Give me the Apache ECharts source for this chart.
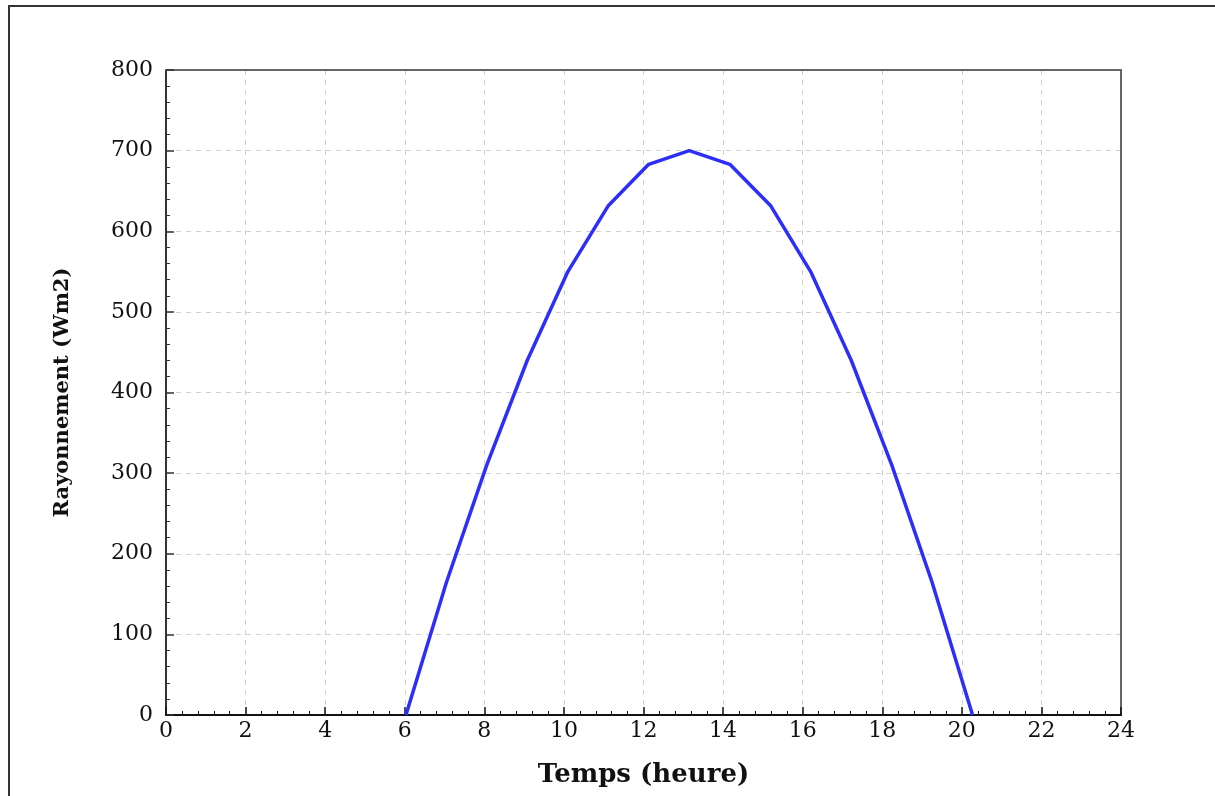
<!DOCTYPE html>
<html><head><meta charset="utf-8">
<script src="https://cdn.jsdelivr.net/npm/echarts@6/dist/echarts.min.js"></script>
<style>html,body{margin:0;padding:0;background:#fff}#c{width:1215px;height:796px}</style>
</head><body><div id="c"></div>
<script>
const hours = [6.03, 7.05, 8.06, 9.08, 10.10, 11.12, 12.13, 13.15, 14.17, 15.19, 16.20, 17.22, 18.24, 19.25, 20.27];
const radiation = [0, 165, 310, 440, 550, 632, 683, 700, 683, 632, 550, 440, 310, 165, 0];
const xTitle = 'Temps (heure)';
const yTitle = 'Rayonnement (Wm2)';

const font = 'DejaVu Serif';
const chart = echarts.init(document.getElementById('c'), null, {renderer: 'canvas'});
chart.setOption({
  animation: false,
  backgroundColor: '#fff',
  graphic: [{type: 'rect', shape: {x: 9, y: 6, width: 1230, height: 820}, style: {fill: 'none', stroke: '#333', lineWidth: 2}, silent: true}],
  grid: {left: 166, right: 94, top: 70, bottom: 81},
  xAxis: [{
    type: 'value', min: 0, max: 24, interval: 2,
    name: xTitle, nameLocation: 'middle', nameGap: 47,
    nameTextStyle: {fontFamily: font, fontWeight: 'bold', fontSize: 26, color: '#111'},
    axisLine: {onZero: false, lineStyle: {color: '#111', width: 2}},
    axisTick: {inside: true, length: 8, lineStyle: {color: '#111', width: 1.5}},
    minorTick: {show: true, splitNumber: 5, length: 4, lineStyle: {color: '#111', width: 1}},
    axisLabel: {fontFamily: font, fontSize: 22, color: '#111', margin: 5},
    splitLine: {show: true, lineStyle: {color: '#d0d0d0', type: [5, 5], width: 1}}
  }, {
    type: 'value', min: 0, max: 24, position: 'top',
    axisLine: {show: true, onZero: false, lineStyle: {color: '#666', width: 2}},
    axisTick: {show: false}, axisLabel: {show: false}, splitLine: {show: false}
  }],
  yAxis: [{
    type: 'value', min: 0, max: 800, interval: 100,
    name: yTitle, nameLocation: 'middle', nameGap: 93, nameRotate: 90,
    nameTextStyle: {fontFamily: font, fontWeight: 'bold', fontSize: 21, color: '#111'},
    axisLine: {show: true, onZero: false, lineStyle: {color: '#333', width: 2}},
    axisTick: {show: true, inside: true, length: 8, lineStyle: {color: '#333', width: 1.5}},
    minorTick: {show: true, splitNumber: 5, length: 4, lineStyle: {color: '#333', width: 1}},
    axisLabel: {fontFamily: font, fontSize: 22, color: '#111', margin: 13},
    splitLine: {show: true, lineStyle: {color: '#d0d0d0', type: [5, 5], width: 1}}
  }, {
    type: 'value', min: 0, max: 800, position: 'right',
    axisLine: {show: true, onZero: false, lineStyle: {color: '#666', width: 2}},
    axisTick: {show: false}, axisLabel: {show: false}, splitLine: {show: false}
  }],
  series: [{
    type: 'line', showSymbol: false,
    data: hours.map((h, i) => [h, radiation[i]]),
    lineStyle: {color: '#2e2efa', width: 3.5}
  }]
});
</script></body></html>
